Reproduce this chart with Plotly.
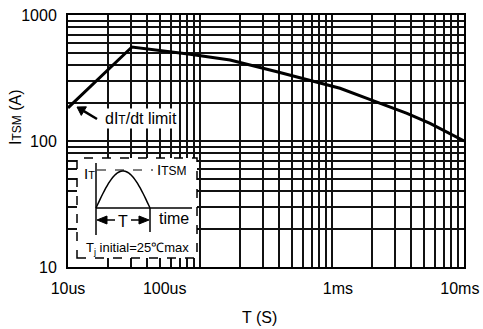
import numpy as np
import plotly.graph_objects as go

# ---- data ----
pulse_width_us = [10, 30.5, 84, 169, 383, 647, 1150, 1840, 3700, 5530, 10000]
itsm_amps = [183, 557, 488, 440, 355, 309, 262, 218, 166, 138, 100]

x_tick_labels = ["10us", "100us", "1ms", "10ms"]
x_tick_label_pos_s = [1e-5, 5.4e-5, 1.11e-3, 9.3e-3]
y_tick_vals = [10, 100, 1000]
y_tick_labels = ["10", "100", "1000"]

x_grid_s = [k * 10.0 ** e for e in (-5, -4, -3) for k in range(1, 10)] + [1e-2]
y_grid = [k * 10.0 ** e for e in (1, 2) for k in range(2, 10)]

T_s = [t * 1e-6 for t in pulse_width_us]

W, H = 483, 329
L, R, TOP, BOT = 68, 464, 15, 267
FONT = "Liberation Sans, Arial, sans-serif"
FS = 16


def px(x):
    return (x - L) / (R - L)


def py(y):
    return (BOT - y) / (BOT - TOP)


fig = go.Figure()
fig.add_trace(go.Scatter(x=T_s, y=itsm_amps, mode="lines",
                         line=dict(color="black", width=3), hoverinfo="skip",
                         showlegend=False))

GRID = "#111111"
fig.update_xaxes(type="log", range=[-5, -2], tickmode="array",
                 tickvals=x_tick_label_pos_s, ticktext=x_tick_labels,
                 showgrid=False, ticks="", ticklabelstandoff=6,
                 automargin=False, ticklabeloverflow="allow",
                 tickfont=dict(family=FONT, size=FS, color="black"),
                 showline=True, linecolor="black", linewidth=2, mirror=True,
                 zeroline=False,
                 minor=dict(tickmode="array", tickvals=x_grid_s, showgrid=True,
                            gridcolor=GRID, gridwidth=2, ticks=""))
fig.update_yaxes(type="log", range=[1, 3], tickmode="array",
                 tickvals=y_tick_vals, ticktext=y_tick_labels,
                 showgrid=True, gridcolor=GRID, gridwidth=2, ticks="",
                 ticklabelstandoff=6, automargin=False,
                 ticklabeloverflow="allow",
                 tickfont=dict(family=FONT, size=FS, color="black"),
                 showline=True, linecolor="black", linewidth=2, mirror=True,
                 zeroline=False,
                 minor=dict(tickmode="array", tickvals=y_grid, showgrid=True,
                            gridcolor=GRID, gridwidth=2, ticks=""))

shapes = []
# inset box
shapes.append(dict(type="rect", xref="paper", yref="paper",
                   x0=px(77), x1=px(197), y0=py(258), y1=py(158),
                   line=dict(color="black", width=1.5, dash="dash"),
                   fillcolor="white", layer="above"))


def seg(x0, y0, x1, y1, width=1.5, dash="solid"):
    return dict(type="line", xref="paper", yref="paper",
                x0=px(x0), y0=py(y0), x1=px(x1), y1=py(y1),
                line=dict(color="black", width=width, dash=dash))


def poly(points):
    p = "M " + " L ".join(f"{px(a):.5f},{py(b):.5f}" for a, b in points) + " Z"
    return dict(type="path", xref="paper", yref="paper", path=p,
                fillcolor="black", line=dict(color="black", width=1))


def arrow(tail, tip, head_len=8.0, half_w=4.5, width=2.5):
    tail = np.array(tail, float)
    tip = np.array(tip, float)
    u = (tip - tail) / np.linalg.norm(tip - tail)
    n = np.array([-u[1], u[0]])
    base = tip - u * head_len
    return [seg(tail[0], tail[1], base[0], base[1], width),
            poly([tip, base + n * half_w, base - n * half_w])]


shapes.append(seg(96, 163, 96, 235))          # current axis
shapes.append(seg(96, 208, 192, 208))         # time axis
shapes.append(seg(150, 208, 150, 232))        # end marker
shapes.append(seg(97, 170, 153, 170, 1.2, "dash"))  # ITSM level
# half sine pulse schematic
th = np.linspace(0, np.pi, 40)
sx = 96 + (150 - 96) * th / np.pi
sy = 208 - (208 - 171) * np.sin(th)
path = "M " + " L ".join(f"{px(a):.5f},{py(b):.5f}" for a, b in zip(sx, sy))
shapes.append(dict(type="path", xref="paper", yref="paper", path=path,
                   line=dict(color="black", width=1.5)))
# "<- T ->" width arrows
shapes += arrow((115, 220), (97, 220), head_len=10, half_w=4, width=1.5)
shapes += arrow((131, 220), (149, 220), head_len=10, half_w=4, width=1.5)
# arrow pointing at the dI/dt limited segment
shapes += arrow((97, 119), (77, 107), head_len=8, half_w=5, width=2.5)
fig.update_layout(shapes=shapes)


def label(x, y, text, size=FS, **kw):
    d = dict(xref="paper", yref="paper", x=px(x), y=py(y), text=text,
             showarrow=False, xanchor="center", yanchor="middle",
             font=dict(family=FONT, size=size, color="black"))
    d.update(kw)
    return d


ann = []
ann.append(label(141, 118, "dI<span style='font-size:12px'>T</span>/dt limit",
                 bgcolor="white", borderpad=1))
# inset texts
ann.append(label(89, 173, "I<span style='font-size:11px'>T</span>", 15))
ann.append(label(172, 169, "I<span style='font-size:12px'>TSM</span>", 15))
ann.append(label(123, 221, "T"))
ann.append(label(174, 218, "time"))
ann.append(label(137, 248, "T<sub>j</sub> initial=25℃max", 13))
# axis titles
ann.append(label(15, 117, "I<span style='font-size:12px'>TSM</span> (A)",
                 textangle=-90))
ann.append(label(259, 317, "T (S)"))
fig.update_layout(annotations=ann)

fig.update_layout(width=W, height=H,
                  margin=dict(l=L, r=W - R, t=TOP, b=H - BOT,
                              pad=0, autoexpand=False),
                  paper_bgcolor="white", plot_bgcolor="white",
                  showlegend=False)
fig.write_html("out.html", config={"displayModeBar": False},
               post_script="document.body.style.margin='0';"
                           "document.body.style.overflow='hidden';")
